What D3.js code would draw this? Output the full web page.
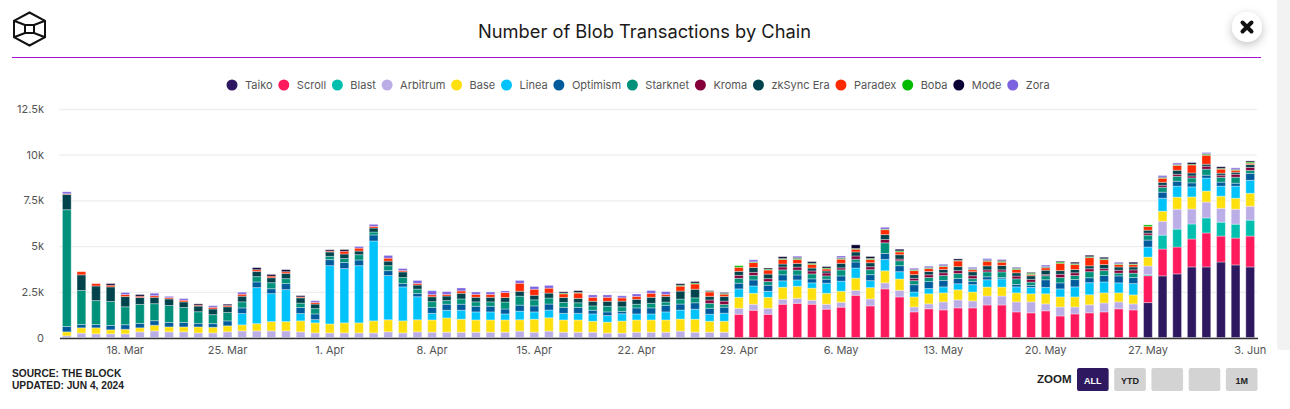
<!DOCTYPE html>
<html>
<head>
<meta charset="utf-8">
<script src="https://cdnjs.cloudflare.com/ajax/libs/d3/7.8.5/d3.min.js"></script>
<style>
	html, body { margin: 0; padding: 0; background: #fff; overflow: hidden; }
	text { font-family: Inter, "Noto Sans", sans-serif; }
	.ticks text { font-size: 11px; fill: #555; }
	.legend text { font-size: 11px; fill: #555; }
</style>
</head>
<body>
<svg id="chart" width="1290" height="409"></svg>
<script>
var startDay = '2024-03-14';
var names = ['Taiko', 'Scroll', 'Blast', 'Arbitrum', 'Base', 'Linea', 'Optimism', 'Starknet', 'Kroma', 'zkSync Era', 'Paradex', 'Boba', 'Mode', 'Zora'];
var colors = ['#2e1860', '#ff1a5e', '#00bfae', '#bbaee6', '#ffe00f', '#00c3fb', '#005b9c', '#00917a', '#85003a', '#00434c', '#ff2a00', '#00bb00', '#0b0033', '#7b63e0'];

// one value per day, 14 Mar to 3 Jun
var taiko = [0,0,0,0,0,0,0,0,0,0,0,0,0,0,0,0,0,0,0,0,0,0,0,0,0,0,0,0,0,0,0,0,0,0,0,0,0,0,0,0,0,0,0,0,0,0,0,0,0,0,0,0,0,0,0,0,0,0,0,0,0,0,0,0,0,0,0,0,0,0,0,0,0,0,
	1910,3370,3480,3860,3860,4130,3970,3860];
var scroll = [0,0,0,0,0,0,0,0,0,0,0,0,0,0,0,0,0,0,0,0,0,0,0,0,0,0,0,0,0,0,0,0,0,0,0,0,0,0,0,0,0,0,0,0,0,0,
	1270,1490,1270,1820,1870,1820,1550,1660,2310,1730,2660,2220,1400,1570,1510,1620,1620,1780,1780,1400,1350,1460,1180,1290,1350,1400,1570,1510,
	1470,1470,1470,1530,1860,1420,1470,1690];
var blast = [0,0,0,0,0,0,0,0,0,0,0,0,0,0,0,0,0,0,0,0,0,0,0,0,0,0,0,0,0,0,0,0,0,0,0,0,0,0,0,0,0,0,0,0,0,0,0,0,0,0,0,0,0,0,0,0,0,0,0,0,0,0,0,0,0,0,0,0,0,0,0,0,0,0,
	60,760,980,820,820,760,760,870];
var arbitrum = [90,240,200,200,200,310,360,310,310,250,250,310,360,360,360,360,310,250,250,250,250,250,310,250,310,290,290,290,290,290,290,350,290,350,290,290,290,240,240,290,290,290,350,290,290,290,
	330,330,330,270,270,220,270,270,270,380,330,360,270,270,440,440,380,490,490,550,600,380,490,380,440,490,380,330,
	470,760,1090,820,870,760,820,760];
var base = [220,290,330,220,250,220,310,270,270,330,310,330,330,400,510,510,600,550,490,550,550,660,660,660,660,670,780,710,670,670,670,620,710,730,670,670,600,600,660,670,670,670,660,710,600,600,
	600,600,600,660,660,660,600,600,670,620,660,620,550,550,490,550,490,490,490,490,440,550,550,550,550,550,490,490,
	490,550,660,660,600,660,600,710];
var linea = [0,0,0,0,0,0,0,0,0,0,0,0,620,1970,1530,1750,400,180,3190,2970,3130,4370,2420,1860,1260,360,420,490,440,440,330,470,400,420,360,360,400,360,400,330,330,440,490,550,380,440,
	460,400,330,350,350,290,550,550,550,380,620,400,270,290,330,330,400,400,450,330,350,350,440,550,660,600,550,620,
	550,710,600,550,710,550,660,710];
var optimism = [290,180,180,240,250,240,250,240,240,180,200,270,310,310,270,330,330,310,330,330,310,330,270,180,180,330,330,330,310,310,270,330,330,330,330,330,200,200,130,330,330,360,330,350,330,330,
	310,330,330,330,270,220,220,290,330,330,330,330,400,380,350,290,180,160,70,130,110,420,330,400,270,350,380,330,
	380,330,270,220,160,220,160,380];
var starknet = [6390,1860,1310,1310,980,1040,930,930,820,650,490,460,330,290,330,270,240,290,180,220,290,160,270,330,240,310,200,290,240,240,380,490,330,330,270,250,240,310,250,200,250,180,270,270,270,150,
	270,250,200,270,270,270,180,330,150,270,580,270,220,220,270,270,150,270,310,310,180,220,290,220,330,270,150,240,
	270,270,270,270,330,270,330,160];
var kroma = [0,0,0,0,0,0,0,0,0,0,0,0,0,0,0,0,0,0,0,0,0,0,0,0,0,0,0,0,0,0,0,0,0,0,0,0,0,0,0,0,0,0,0,0,180,180,
	160,160,160,160,160,160,160,110,180,160,180,90,130,150,150,160,160,110,110,150,150,60,180,150,160,110,160,180,
	110,110,110,110,160,110,160,160];
var zksync = [840,860,800,800,560,380,350,360,310,310,310,310,310,290,270,290,290,250,240,250,200,220,250,310,220,270,250,310,250,250,250,270,250,270,270,240,250,270,310,270,330,310,440,470,200,250,
	220,270,250,160,200,160,110,250,220,220,270,240,200,180,180,220,220,220,240,180,200,240,200,180,160,220,180,160,
	160,160,220,160,110,110,110,160];
var paradex = [30,170,130,90,110,70,90,70,90,50,90,70,110,90,90,90,50,90,50,150,160,90,160,70,90,110,90,130,160,160,270,440,330,270,200,290,220,220,180,160,220,110,270,290,240,130,
	220,270,220,250,220,200,110,220,150,180,270,150,220,160,160,310,110,250,180,180,70,130,400,270,450,270,130,130,
	200,220,270,440,490,220,110,70];
var boba = [0,0,0,0,0,0,0,0,0,0,0,0,0,0,0,0,0,0,0,0,0,0,0,0,0,0,0,0,0,0,0,0,0,0,40,40,0,0,0,0,0,0,50,50,30,40,
	90,40,50,50,60,60,50,50,40,60,30,60,30,30,30,30,30,40,50,60,70,30,70,50,50,50,30,40,
	90,40,30,40,60,40,30,70];
var mode = [0,0,0,90,0,90,0,0,0,70,0,70,0,110,90,110,70,0,70,90,0,0,0,0,0,0,0,0,0,0,0,0,0,0,70,90,0,0,0,0,0,0,80,80,40,50,
	0,0,60,100,60,90,80,50,200,100,0,90,40,40,40,80,40,40,60,30,40,40,40,80,80,80,40,90,
	0,30,30,90,30,90,30,60];
var zora = [110,0,0,0,110,0,130,70,90,0,90,0,110,0,0,0,0,90,0,0,90,110,150,110,160,220,150,160,130,130,90,150,150,150,0,0,130,130,110,130,150,150,0,0,0,0,
	0,110,0,0,60,0,0,80,0,0,100,0,60,60,60,0,60,70,40,40,0,80,0,0,0,0,60,0,
	0,80,70,0,60,0,70,0];

var seriesValues = [taiko, scroll, blast, arbitrum, base, linea, optimism, starknet, kroma, zksync, paradex, boba, mode, zora];

var yTicks = [0, 2500, 5000, 7500, 10000, 12500];
var yLabels = ['0', '2.5k', '5k', '7.5k', '10k', '12.5k'];
var xTicks = ['2024-03-18', '2024-03-25', '2024-04-01', '2024-04-08', '2024-04-15', '2024-04-22', '2024-04-29', '2024-05-06', '2024-05-13', '2024-05-20', '2024-05-27', '2024-06-03'];
var zoomLabels = ['ALL', 'YTD', '', '', '1M'];

var svg = d3.select('#chart');
var fmtDay = d3.utcFormat('%Y-%m-%d');
var parseDay = d3.utcParse('%Y-%m-%d');

var days = taiko.map(function(d, i) {
	return fmtDay(d3.utcDay.offset(parseDay(startDay), i));
});
var rows = days.map(function(day, i) {
	var row = { day: day };
	names.forEach(function(n, s) { row[n] = seriesValues[s][i]; });
	return row;
});

var x = d3.scaleBand().domain(days).range([59.5, 1257.5]).paddingInner(0.4).paddingOuter(0.2);
var y = d3.scaleLinear().domain([0, 12500]).range([337.5, 109]);

// grid + y axis
var yAxis = svg.append('g')
	.attr('transform', 'translate(59,0)')
	.call(d3.axisLeft(y).tickValues(yTicks).tickSize(-1198).tickPadding(15)
		.tickFormat(function(d, i) { return yLabels[i]; }));
yAxis.attr('class', 'ticks');
yAxis.select('.domain').remove();
yAxis.selectAll('line').attr('stroke', '#eeeeee').attr('stroke-width', 1.3);

// stacked columns, thin white edge lets the grid of segments show
var stacked = d3.stack().keys(names)(rows);
svg.append('g').selectAll('g')
	.data(stacked)
	.join('g')
	.attr('fill', function(d, i) { return colors[i]; })
	.attr('stroke', '#fff')
	.attr('stroke-opacity', 0.35)
	.selectAll('rect')
	.data(function(d) { return d.filter(function(v) { return v[1] > v[0]; }); })
	.join('rect')
	.attr('x', function(d) { return x(d.data.day); })
	.attr('width', x.bandwidth())
	.attr('y', function(d) { return y(d[1]); })
	.attr('height', function(d) { return y(d[0]) - y(d[1]); });

// x axis
var xAxis = svg.append('g')
	.attr('class', 'ticks')
	.attr('transform', 'translate(0,338)')
	.call(d3.axisBottom(x).tickValues(xTicks).tickSize(0).tickPadding(8)
		.tickFormat(function(d) { return d3.utcFormat('%-d. %b')(parseDay(d)); }));
xAxis.select('.domain').attr('stroke', '#333').attr('stroke-width', 1.4);

// header
svg.append('text').attr('x', 644.5).attr('y', 38).attr('text-anchor', 'middle')
	.style('font-size', '18.3px').attr('fill', '#1a1a1a').text('Number of Blob Transactions by Chain');
svg.append('line').attr('x1', 12).attr('x2', 1261).attr('y1', 57.5).attr('y2', 57.5).attr('stroke', '#a012d0');

// logo
var logo = svg.append('g').attr('transform', 'translate(29.5,29)')
	.attr('fill', 'none').attr('stroke', '#111').attr('stroke-width', 2);
var hexPts = d3.range(6).map(function(i) {
	var a = Math.PI / 3 * i - Math.PI / 2;
	return [15.5 * Math.cos(a) / Math.cos(Math.PI / 6), 16.5 * Math.sin(a)];
});
var innerPts = [[-4.5, -4], [4.5, -4], [4.5, 4], [-4.5, 4]];
logo.append('path').attr('d', d3.line()(hexPts) + 'Z');
logo.append('path').attr('d', d3.line()(innerPts) + 'Z');
[[1, 1], [2, 2], [4, 3], [5, 0]].forEach(function(p) {
	logo.append('line')
		.attr('x1', hexPts[p[0]][0]).attr('y1', hexPts[p[0]][1])
		.attr('x2', innerPts[p[1]][0]).attr('y2', innerPts[p[1]][1]);
});

// close button + side strip
var defs = svg.append('defs');
var shadow = defs.append('filter').attr('id', 'sh').attr('x', '-60%').attr('y', '-60%').attr('width', '220%').attr('height', '220%');
shadow.append('feDropShadow').attr('dx', 0).attr('dy', 3).attr('stdDeviation', 5).attr('flood-opacity', 0.25);
svg.append('rect').attr('x', 1277).attr('y', -10).attr('width', 20).attr('height', 360).attr('rx', 3).attr('fill', '#f2f2f2');
svg.append('circle').attr('cx', 1247).attr('cy', 27).attr('r', 15).attr('fill', '#fff').attr('filter', 'url(#sh)');
svg.append('path').attr('d', 'M1242.5,22.5L1251.5,31.5M1251.5,22.5L1242.5,31.5')
	.attr('stroke', '#111').attr('stroke-width', 4).attr('stroke-linecap', 'round');

// legend, laid out left to right from the label widths
var legend = svg.append('g').attr('class', 'legend');
var cx = 232;
names.forEach(function(n, i) {
	legend.append('circle').attr('cx', cx).attr('cy', 85).attr('r', 5.5).attr('fill', colors[i]);
	var label = legend.append('text').attr('x', cx + 13).attr('y', 89).text(n);
	cx += 13 + label.node().getComputedTextLength() + 11.3;
});

// footer
svg.append('text').attr('x', 12).attr('y', 377).attr('fill', '#222')
	.style('font-family', '"Liberation Sans", sans-serif').style('font-weight', 700).style('font-size', '10.2px').text('SOURCE: THE BLOCK');
svg.append('text').attr('x', 12).attr('y', 389).attr('fill', '#222')
	.style('font-family', '"Liberation Sans", sans-serif').style('font-weight', 700).style('font-size', '10.2px').text('UPDATED: JUN 4, 2024');

// zoom buttons
svg.append('text').attr('x', 1037).attr('y', 383).attr('fill', '#222')
	.style('font-family', '"Liberation Sans", sans-serif').style('font-weight', 700).style('font-size', '11.5px').text('ZOOM');
var bx = d3.scaleBand().domain(d3.range(zoomLabels.length)).range([1077, 1257.5]).paddingInner(0.15);
zoomLabels.forEach(function(t, i) {
	svg.append('rect').attr('x', bx(i)).attr('y', 368).attr('width', bx.bandwidth()).attr('height', 23).attr('rx', 2)
		.attr('fill', i === 0 ? '#2e1860' : '#d3d3d3');
	svg.append('text').attr('x', bx(i) + bx.bandwidth() / 2).attr('y', 384).attr('text-anchor', 'middle')
		.attr('fill', i === 0 ? '#fff' : '#222')
		.style('font-family', '"Liberation Sans", sans-serif').style('font-weight', 700).style('font-size', '9px').text(t);
});
</script>
</body>
</html>
